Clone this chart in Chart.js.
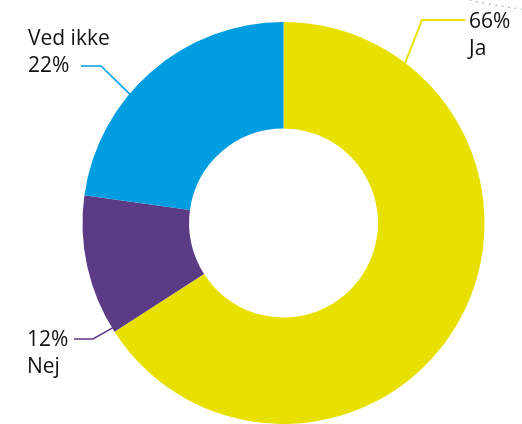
<!DOCTYPE html>
<html>
<head>
<meta charset="utf-8">
<script src="https://cdn.jsdelivr.net/npm/chart.js@4.4.1/dist/chart.umd.min.js"></script>
<style>
  html, body { margin: 0; padding: 0; background: #fff; }
  #wrap { width: 522px; height: 424px; position: relative; }
</style>
</head>
<body>
<div id="wrap"><canvas id="donut"></canvas></div>
<script>
// data (clockwise from 12 o'clock)
const categories = ['Ja', 'Nej', 'Ved ikke'];
const values = [65.9, 11.3, 22.8];
const pctLabels = ['66%', '12%', '22%'];
const colors = ['#e8e100', '#5b3a86', '#009ee0'];

// label layout: where the leader line touches the slice and where the text sits
const labelLayout = [
  { frac: 0.158, elbow: [422, 20], end: [465, 20], text: [469, 28], order: ['pct', 'cat'], width: 2 },
  { frac: 0.03, elbow: [93, 339], end: [74, 339], text: [27, 346], order: ['pct', 'cat'], width: 1.5 },
  { frac: 0.39, elbow: [101, 66], end: [81, 66], text: [28, 45], order: ['cat', 'pct'], width: 1.5 },
];

const leaderLabels = {
  id: 'leaderLabels',
  afterDraw(chart) {
    const ctx = chart.ctx;
    const arcs = chart.getDatasetMeta(0).data;
    ctx.save();

    // faint dotted curve in the top-right corner
    ctx.strokeStyle = '#a3b5a3';
    ctx.lineWidth = 1.5;
    ctx.setLineDash([1.5, 5]);
    ctx.beginPath();
    ctx.moveTo(470, 0);
    ctx.quadraticCurveTo(495, 6, 522, 9);
    ctx.stroke();
    ctx.setLineDash([]);

    labelLayout.forEach((lab, i) => {
      const a = arcs[i];
      const ang = a.startAngle + lab.frac * (a.endAngle - a.startAngle);
      const r = a.outerRadius - 3;
      const px = a.x + Math.cos(ang) * r;
      const py = a.y + Math.sin(ang) * r;
      ctx.strokeStyle = colors[i];
      ctx.lineWidth = lab.width;
      ctx.beginPath();
      ctx.moveTo(px, py);
      ctx.lineTo(lab.elbow[0], lab.elbow[1]);
      ctx.lineTo(lab.end[0], lab.end[1]);
      ctx.stroke();

      ctx.fillStyle = '#111';
      ctx.font = '21px "Open Sans", "Noto Sans", sans-serif';
      ctx.textAlign = 'left';
      ctx.textBaseline = 'alphabetic';
      lab.order.forEach((k, j) => {
        const t = k === 'pct' ? pctLabels[i] : categories[i];
        ctx.fillText(t, lab.text[0], lab.text[1] + j * 27);
      });
    });
    ctx.restore();
  },
};

new Chart(document.getElementById('donut'), {
  type: 'doughnut',
  data: {
    labels: categories,
    datasets: [{
      data: values,
      backgroundColor: colors,
      borderWidth: 0,
      hoverOffset: 0,
    }],
  },
  options: {
    responsive: true,
    maintainAspectRatio: false,
    animation: false,
    cutout: '47%',
    layout: { padding: { left: 82, right: 37, top: 22, bottom: 0 } },
    plugins: {
      legend: { display: false },
      tooltip: { enabled: false },
    },
  },
  plugins: [leaderLabels],
});
</script>
</body>
</html>
